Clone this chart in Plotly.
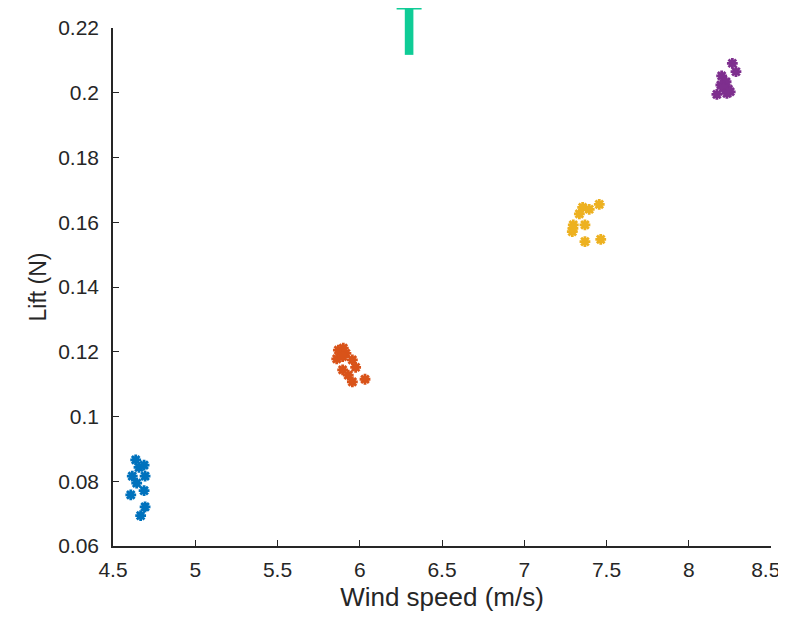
import plotly.graph_objects as go

# Data
blue_x = [4.638, 4.658, 4.689, 4.617, 4.695, 4.644, 4.689, 4.608, 4.695, 4.668]
blue_y = [0.0866, 0.0843, 0.0850, 0.0816, 0.0816, 0.0794, 0.0771, 0.0758, 0.0721, 0.0694]

orange_x = [5.870, 5.900, 5.916, 5.860, 5.955, 5.896, 5.975, 5.930, 5.955, 6.032, 5.896]
orange_y = [0.1205, 0.1211, 0.1195, 0.1178, 0.1175, 0.1144, 0.1152, 0.1128, 0.1107, 0.1115, 0.1185]

yellow_x = [7.355, 7.395, 7.456, 7.335, 7.298, 7.292, 7.369, 7.369, 7.465, 7.296]
yellow_y = [0.1646, 0.1640, 0.1655, 0.1626, 0.1592, 0.1571, 0.1592, 0.1540, 0.1547, 0.1581]

purple_x = [8.265, 8.287, 8.200, 8.227, 8.195, 8.241, 8.211, 8.171, 8.232, 8.252]
purple_y = [0.2091, 0.2065, 0.2052, 0.2034, 0.2024, 0.2011, 0.2014, 0.1995, 0.1998, 0.2003]

green_x = [6.3]
green_low = [0.2117]
green_high = [0.2286]

x_ticks = [4.5, 5, 5.5, 6, 6.5, 7, 7.5, 8, 8.5]
x_labels = ["4.5", "5", "5.5", "6", "6.5", "7", "7.5", "8", "8.5\u2002"]
y_ticks = [0.06, 0.08, 0.10, 0.12, 0.14, 0.16, 0.18, 0.20, 0.22]
y_labels = ["0.06", "0.08", "0.1", "0.12", "0.14", "0.16", "0.18", "0.2", "0.22"]

colors = ["#0072BD", "#D95319", "#EDB120", "#7E2F8E"]
green = "#0FCC96"

# page body has an 8px margin, so the figure is offset by 8px
OFF = 8
W, H = 786 - OFF, 617 - OFF
ML, MR, MT, MB = 113 - OFF, 15, 0, 71
AX_TOP = 28 - OFF  # figure pixel row of the top of the axes box
plot_h = H - MT - MB
main_top = (plot_h - AX_TOP) / plot_h
y_lo, y_hi = 0.06, 0.22
# second (invisible) subplot reaching to the top of the figure with identical scale
y2_hi = y_lo + (y_hi - y_lo) / main_top

fig = go.Figure()
for xs, ys, c in [(blue_x, blue_y, colors[0]), (orange_x, orange_y, colors[1]),
                  (yellow_x, yellow_y, colors[2]), (purple_x, purple_y, colors[3])]:
    fig.add_trace(go.Scatter(
        x=xs, y=ys, mode="markers",
        marker=dict(symbol="asterisk-open", size=9, color=c,
                    line=dict(color=c, width=2.8)),
        showlegend=False, hoverinfo="skip"))

# Green element (thick vertical bar with a thin cap), partly above the axes
fig.add_trace(go.Scatter(
    x=green_x, y=green_low, mode="markers", xaxis="x2", yaxis="y2",
    marker=dict(size=1, color="rgba(0,0,0,0)"),
    error_y=dict(type="data", symmetric=False,
                 array=[h - l for h, l in zip(green_high, green_low)],
                 arrayminus=[0], color=green, thickness=8.6, width=0),
    showlegend=False, hoverinfo="skip"))
fig.add_trace(go.Scatter(
    x=green_x, y=[y2_hi], mode="markers", xaxis="x2", yaxis="y2",
    marker=dict(size=1, color="rgba(0,0,0,0)"),
    error_y=dict(type="data", symmetric=True, array=[0],
                 color=green, thickness=3, width=12.5),
    showlegend=False, hoverinfo="skip"))

axis_common = dict(
    showline=True, linecolor="#262626", linewidth=1.5,
    ticks="inside", ticklen=6, tickwidth=1.2, tickcolor="#262626",
    showgrid=False, zeroline=False, mirror=False, automargin=False,
    ticklabeloverflow="allow",
    tickfont=dict(family="Liberation Sans, Arial", size=21, color="#262626"),
)

fig.update_layout(
    width=W, height=H,
    margin=dict(l=ML, r=MR, t=MT, b=MB),
    paper_bgcolor="white", plot_bgcolor="rgba(0,0,0,0)",
    font=dict(family="Liberation Sans, Arial", color="#262626"),
    xaxis=dict(range=[4.5, 8.5], tickvals=x_ticks, ticktext=x_labels,
               ticklabelstandoff=4,
               title=dict(text="Wind speed (m/s)", font=dict(size=26), standoff=8),
               **axis_common),
    yaxis=dict(range=[y_lo, y_hi], domain=[0, main_top],
               tickvals=y_ticks, ticktext=y_labels, ticklabelstandoff=8,
               title=dict(text="Lift (N)", font=dict(size=23), standoff=5),
               **axis_common),
    xaxis2=dict(range=[4.5, 8.5], domain=[0, 1], anchor="y2", visible=False),
    yaxis2=dict(range=[y_lo, y2_hi], domain=[0, 1], anchor="x2", visible=False),
)

fig.write_html("out.html")
